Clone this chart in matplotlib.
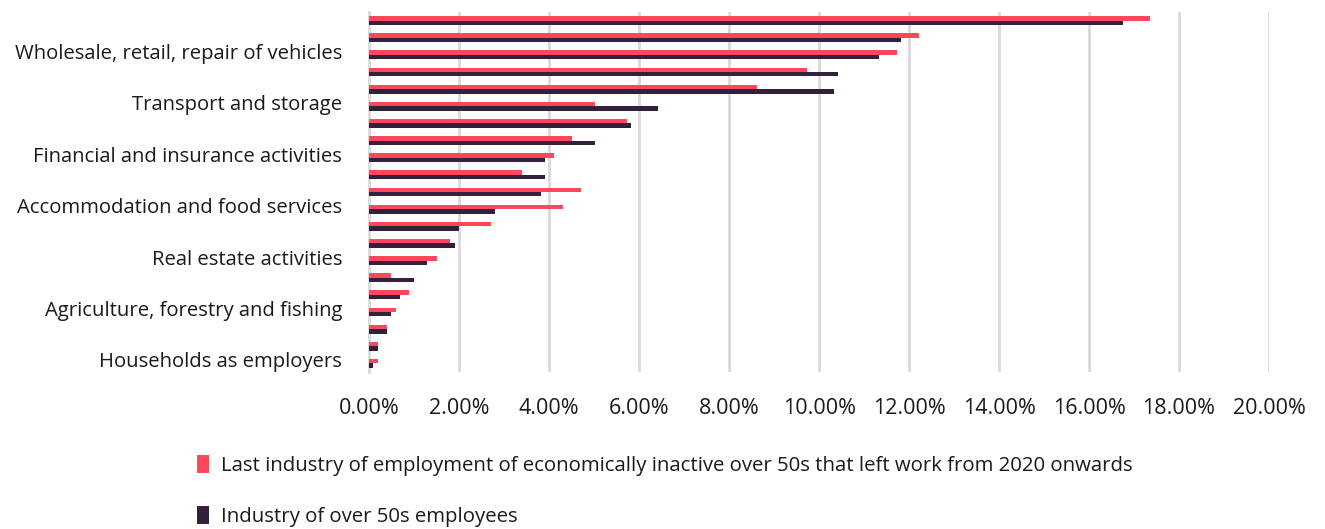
import numpy as np
import matplotlib.pyplot as plt
from matplotlib.patches import Patch

# industries, top to bottom
industries = [
    "Human health and social work activities",
    "Education",
    "Wholesale, retail, repair of vehicles",
    "Manufacturing",
    "Public administration and defence",
    "Transport and storage",
    "Professional, scientific and technical activities",
    "Construction",
    "Financial and insurance activities",
    "Administrative and support services",
    "Information and communication",
    "Accommodation and food services",
    "Other service activities",
    "Arts, entertainment and recreation",
    "Real estate activities",
    "Water supply, sewerage and waste",
    "Electricity and gas supply",
    "Agriculture, forestry and fishing",
    "Mining and quarrying",
    "Extraterritorial organisations",
    "Households as employers",
]

# share of each industry (%)
inactive_left = [17.36, 12.23, 11.74, 9.73, 8.62, 5.01, 5.72, 4.51, 4.11, 3.40, 4.71,
                 4.31, 2.71, 1.80, 1.50, 0.49, 0.89, 0.59, 0.39, 0.19, 0.19]
employees = [16.76, 11.83, 11.34, 10.42, 10.33, 6.41, 5.81, 5.01, 3.90, 3.90, 3.81,
             2.80, 2.00, 1.90, 1.29, 0.99, 0.69, 0.49, 0.39, 0.19, 0.09]

series_names = [
    "Last industry of employment of economically inactive over 50s that left work from 2020 onwards",
    "Industry of over 50s employees",
]
red = "#ff475b"
dark = "#33203b"
txt = "#1a1a1a"

plt.rcParams["font.family"] = ["Open Sans", "DejaVu Sans"]

fig = plt.figure(figsize=(13.25, 5.29), dpi=100)
ax = fig.add_axes([369.3 / 1325, 1 - 372 / 529, 899.7 / 1325, 360 / 529])

y = np.arange(len(industries))
h = 0.26
ax.barh(y - h / 2, inactive_left, height=h, color=red, zorder=3)
ax.barh(y + h / 2, employees, height=h, color=dark, zorder=3)

ax.set_ylim(len(industries) - 0.5, -0.5)
ax.set_xlim(0, 20)
ax.set_xticks(np.arange(0, 21, 2))
ax.set_xticklabels([f"{v:.2f}%" for v in np.arange(0, 21, 2)], fontsize=15.5, color=txt)

# only every third industry gets a label, set a little above the bar pair
shown = [i for i in range(len(industries)) if (len(industries) - 1 - i) % 3 == 0]
ax.set_yticks([i - 0.2 for i in shown])
ax.set_yticklabels([industries[i] for i in shown], fontsize=14.6, color=txt)

ax.tick_params(axis="both", length=0)
ax.tick_params(axis="x", pad=19)
ax.tick_params(axis="y", pad=19.5)
ax.grid(axis="x", color="#d9d9d9", linewidth=2, zorder=0)
for s in ["top", "right", "bottom"]:
    ax.spines[s].set_visible(False)
ax.spines["left"].set_color("#d9d9d9")
ax.spines["left"].set_linewidth(2)

handles = [Patch(facecolor=red), Patch(facecolor=dark)]
fig.legend(handles, series_names, loc="upper left", bbox_to_anchor=(197 / 1325, 1 - 455 / 529),
           frameon=False, fontsize=14.7, labelcolor=txt, labelspacing=1.45, handlelength=0.58,
           handleheight=1.0, handletextpad=0.6, borderaxespad=0, borderpad=0)

fig.savefig("out.png", dpi=100)
